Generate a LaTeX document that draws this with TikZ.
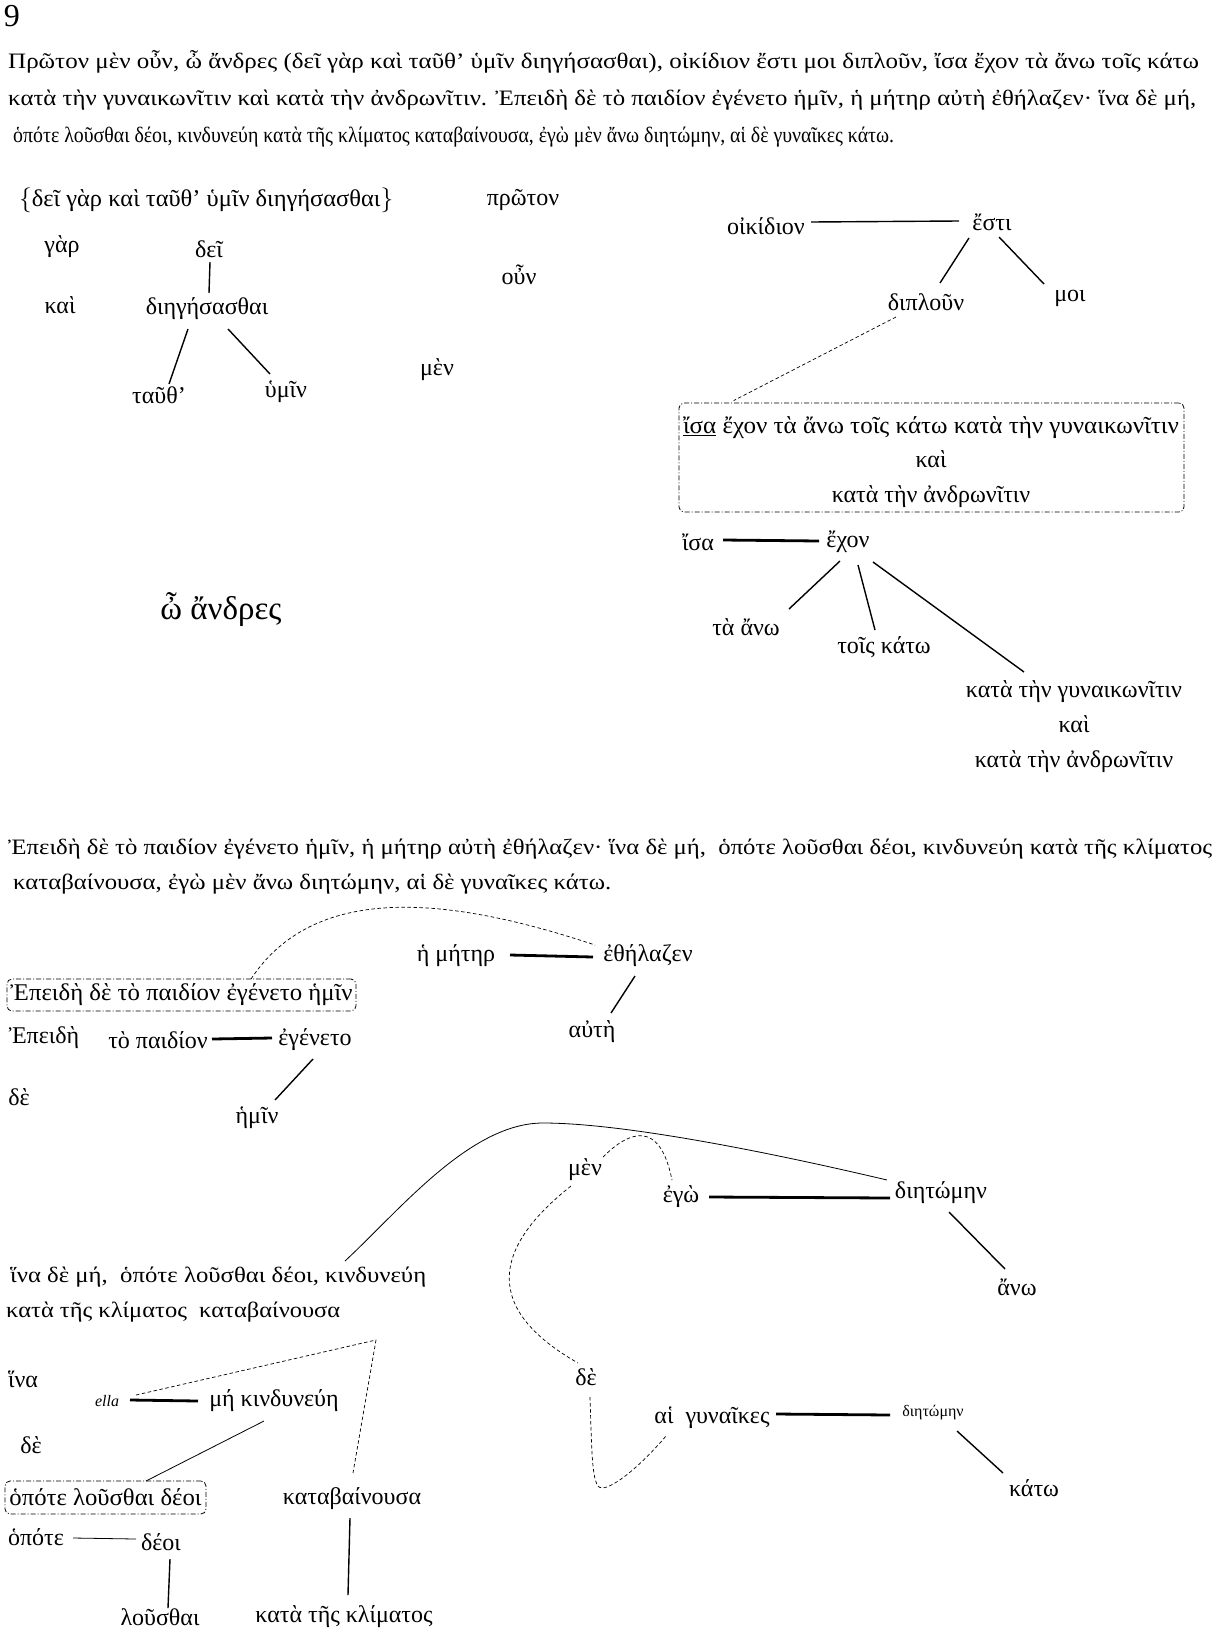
\documentclass[tikz,border=0pt]{standalone}
\usepackage{fontspec}
\setmainfont{Liberation Serif}
\usetikzlibrary{calc}
\newcommand{\fitw}[2]{\resizebox{#1}{\height}{#2}}
\begin{document}
\begin{tikzpicture}[x=1pt,y=-1pt,
 lbl/.style={font=\fontsize{24}{28}\selectfont, inner sep=0pt},
 para/.style={font=\fontsize{22}{26}\selectfont, inner sep=0pt, anchor=west},
 ln/.style={line width=1.4pt},
 thk/.style={line width=2.8pt},
 thn/.style={line width=0.8pt},
 dsh/.style={line width=0.7pt, dash pattern=on 3.5pt off 2.5pt},
 ddbox/.style={draw, line width=0.8pt, dash pattern=on 5pt off 2pt on 1pt off 2pt, rounded corners=5pt, inner sep=0pt}]
\useasboundingbox (0,0) rectangle (1218,1638);
% ---------- header text ----------
\node[lbl, font=\fontsize{32}{36}\selectfont] (pg) at (12,16) {9};
\node[para] (p1) at (8,62) {\fitw{1191pt}{Πρῶτον μὲν οὖν, ὦ ἄνδρες (δεῖ γὰρ καὶ ταῦθ’ ὑμῖν διηγήσασθαι), οἰκίδιον ἔστι μοι διπλοῦν, ἴσα ἔχον τὰ ἄνω τοῖς κάτω}};
\node[para] (p2) at (8,100) {\fitw{1188pt}{κατὰ τὴν γυναικωνῖτιν καὶ κατὰ τὴν ἀνδρωνῖτιν. Ἐπειδὴ δὲ τὸ παιδίον ἐγένετο ἡμῖν, ἡ μήτηρ αὐτὴ ἐθήλαζεν· ἵνα δὲ μή,}};
\node[para] (p3) at (13,137) {\fitw{881pt}{ὁπότε λοῦσθαι δέοι, κινδυνεύη κατὰ τῆς κλίματος καταβαίνουσα, ἐγὼ μὲν ἄνω διητώμην, αἱ δὲ γυναῖκες κάτω.}};
% ---------- section 1, left ----------
\node[lbl, anchor=west] (brace) at (19,200) {\fitw{374pt}{$\Bigl\{$δεῖ γὰρ καὶ ταῦθ’ ὑμῖν διηγήσασθαι$\Bigr\}$}};
\node[lbl] (gar) at (62,247) {γὰρ};
\node[lbl] (dei) at (209,249) {δεῖ};
\node[lbl] (kai1) at (60,305) {καὶ};
\node[lbl] (dieg) at (207,309) {διηγήσασθαι};
\node[lbl] (tauth) at (159,395) {ταῦθ’};
\node[lbl] (humin) at (286,392) {ὑμῖν};
\node[lbl] (proton) at (523,200) {πρῶτον};
\node[lbl] (oun) at (519,275) {οὖν};
\node[lbl] (men1) at (437,370) {μὲν};
\node[lbl, font=\fontsize{33}{38}\selectfont] (andres) at (221,610) {ὦ ἄνδρες};
\draw[ln] ($(dei)+(1,13)$) -- ($(dieg)+(2,-16)$);
\draw[ln] ($(dieg)+(-19,20)$) -- ($(tauth)+(10,-11)$);
\draw[ln] ($(dieg)+(21,20)$) -- ($(humin)+(-16,-18)$);
% ---------- section 1, right ----------
\node[lbl] (oik) at (766,226) {οἰκίδιον};
\node[lbl] (esti) at (992,222) {ἔστι};
\node[lbl] (diploun) at (926,302) {διπλοῦν};
\node[lbl] (moi) at (1070,298) {μοι};
\draw[ln] ($(oik)+(45,-4)$) -- ($(esti)+(-33,-1)$);
\draw[ln] ($(esti)+(-23,16)$) -- ($(diploun)+(14,-19)$);
\draw[ln] ($(esti)+(7,15)$) -- ($(moi)+(-26,-14)$);
\node[ddbox, minimum width=505pt, minimum height=109pt] (box1) at (931.5,457.5) {};
\node[lbl, align=center, font=\fontsize{24}{34.5}\selectfont] (box1txt) at (931,462)
  {\fitw{496pt}{\underline{ἴσα} ἔχον τὰ ἄνω τοῖς κάτω κατὰ τὴν γυναικωνῖτιν}\\ καὶ\\ κατὰ τὴν ἀνδρωνῖτιν};
\draw[dsh] ($(diploun)+(-30,15)$) -- ($(box1.north west)+(55,-2)$);
\node[lbl] (isa) at (698,542) {ἴσα};
\node[lbl] (echon) at (848,542) {ἔχον};
\node[lbl] (tano) at (746,627) {τὰ ἄνω};
\node[lbl] (toiskato) at (884,647) {τοῖς κάτω};
\node[lbl, align=center, font=\fontsize{24}{35}\selectfont] (kata3) at (1074,727) {κατὰ τὴν γυναικωνῖτιν\\ καὶ\\ κατὰ τὴν ἀνδρωνῖτιν};
\draw[thk] ($(isa)+(25,-2)$) -- ($(echon)+(-29,-1)$);
\draw[ln] ($(echon)+(-8,19)$) -- ($(tano)+(43,-18)$);
\draw[ln] ($(echon)+(10,23)$) -- ($(toiskato)+(-9,-17)$);
\draw[ln] ($(echon)+(25,20)$) -- ($(kata3)+(-50,-55)$);
% ---------- section 2 ----------
\node[para] (s1) at (8,849) {\fitw{1204pt}{Ἐπειδὴ δὲ τὸ παιδίον ἐγένετο ἡμῖν, ἡ μήτηρ αὐτὴ ἐθήλαζεν· ἵνα δὲ μή,\ \ ὁπότε λοῦσθαι δέοι, κινδυνεύη κατὰ τῆς κλίματος}};
\node[para] (s2) at (13,884) {\fitw{598pt}{καταβαίνουσα, ἐγὼ μὲν ἄνω διητώμην, αἱ δὲ γυναῖκες κάτω.}};
\node[lbl] (meter) at (456,956) {ἡ μήτηρ};
\node[lbl] (ethel) at (648,956) {ἐθήλαζεν};
\node[lbl] (aute) at (592,1032) {αὐτὴ};
\draw[thk] ($(meter)+(54,-1)$) -- ($(ethel)+(-55,1)$);
\draw[ln] ($(ethel)+(-13,20)$) -- ($(aute)+(19,-19)$);
\node[ddbox, minimum width=349pt, minimum height=32pt, font=\fontsize{24}{28}\selectfont] (box2) at (181.5,995) {\fitw{342pt}{Ἐπειδὴ δὲ τὸ παιδίον ἐγένετο ἡμῖν}};
\draw[dsh] ($(box2)+(69.5,-16)$) .. controls (310,890) and (430,890) .. ($(ethel)+(-53,-11)$);
\node[lbl] (epeide) at (44,1038) {Ἐπειδὴ};
\node[lbl] (topaid) at (158,1040) {τὸ παιδίον};
\node[lbl] (egeneto) at (315,1040) {ἐγένετο};
\node[lbl] (de1) at (19,1097) {δὲ};
\node[lbl] (hemin) at (257,1118) {ἡμῖν};
\draw[thk] ($(topaid)+(54,-1)$) -- ($(egeneto)+(-43,-2)$);
\draw[ln] ($(egeneto)+(-2,19)$) -- ($(hemin)+(18,-18)$);
% ---------- section 2, right middle ----------
\node[lbl] (men2) at (585,1170) {μὲν};
\node[lbl] (ego) at (681,1197) {ἐγὼ};
\node[lbl] (diet1) at (941,1193) {διητώμην};
\node[lbl] (ano) at (1017,1287) {ἄνω};
\draw[thk] ($(ego)+(28,0)$) -- ($(diet1)+(-51,5)$);
\draw[ln] ($(diet1)+(8,19)$) -- ($(ano)+(-12,-18)$);
\node[para] (hina1) at (10,1277) {\fitw{416pt}{ἵνα δὲ μή,\ \ ὁπότε λοῦσθαι δέοι, κινδυνεύη}};
\node[para] (hina2) at (6,1312) {\fitw{334pt}{κατὰ τῆς κλίματος\ \ καταβαίνουσα}};
\draw[thn] ($(hina1.west)+(335,-16)$) .. controls (400,1210) and (470,1123) .. (543,1123)
   .. controls (620,1123) and (760,1150) .. ($(diet1)+(-54,-13)$);
\draw[dsh] ($(men2)+(18,-13)$) .. controls (630,1130) and (660,1120) .. ($(ego)+(-9,-17)$);
\node[lbl] (de2) at (586,1377) {δὲ};
\draw[dsh] ($(men2)+(-14,16)$) .. controls (490,1250) and (485,1310) .. ($(de2)+(-8,-14)$);
\node[lbl] (aiguna) at (712,1418) {αἱ\ \ γυναῖκες};
\node[lbl, font=\fontsize{16}{19}\selectfont] (diet2) at (933,1413) {διητώμην};
\node[lbl] (kato) at (1034,1488) {κάτω};
\draw[dsh] ($(de2)+(4,20)$) .. controls (592,1460) and (592,1490) .. (603,1488)
   .. controls (620,1485) and (650,1455) .. ($(aiguna)+(-46,18)$);
\draw[thk] ($(aiguna)+(64,-4)$) -- ($(diet2)+(-43,2)$);
\draw[ln] ($(diet2)+(24,18)$) -- ($(kato)+(-31,-15)$);
% ---------- section 2, lower left ----------
\node[lbl] (hina) at (23,1379) {ἵνα};
\node[lbl, font=\fontsize{16}{19}\selectfont\itshape] (ella) at (107,1401) {ella};
\node[lbl] (mekin) at (274,1401) {μή κινδυνεύη};
\node[lbl] (de3) at (31,1445) {δὲ};
\node[lbl] (kataba) at (352,1499) {καταβαίνουσα};
\coordinate (apex) at (376,1340);
\draw[thk] ($(ella)+(23,-1)$) -- ($(mekin)+(-76,0)$);
\draw[dsh] ($(ella)+(29,-6)$) -- (apex) -- ($(kataba)+(1,-26)$);
\node[ddbox, minimum width=201pt, minimum height=33pt, font=\fontsize{24}{28}\selectfont] (box3) at (105.5,1497.5) {\fitw{192pt}{ὁπότε λοῦσθαι δέοι}};
\draw[thn] ($(mekin)+(-10,20)$) -- ($(box3)+(40.5,-16.5)$);
\node[lbl] (opote) at (36,1537) {ὁπότε};
\node[lbl] (deoi) at (161,1542) {δέοι};
\node[lbl] (lousthai) at (160,1617) {λοῦσθαι};
\node[lbl] (katakl) at (344,1617) {κατὰ τῆς κλίματος};
\draw[thn] ($(opote)+(37,1)$) -- ($(deoi)+(-25,-3)$);
\draw[ln] ($(deoi)+(9,17)$) -- ($(lousthai)+(8,-9)$);
\draw[ln] ($(kataba)+(-2,19)$) -- ($(katakl)+(4,-22)$);
\end{tikzpicture}
\end{document}
